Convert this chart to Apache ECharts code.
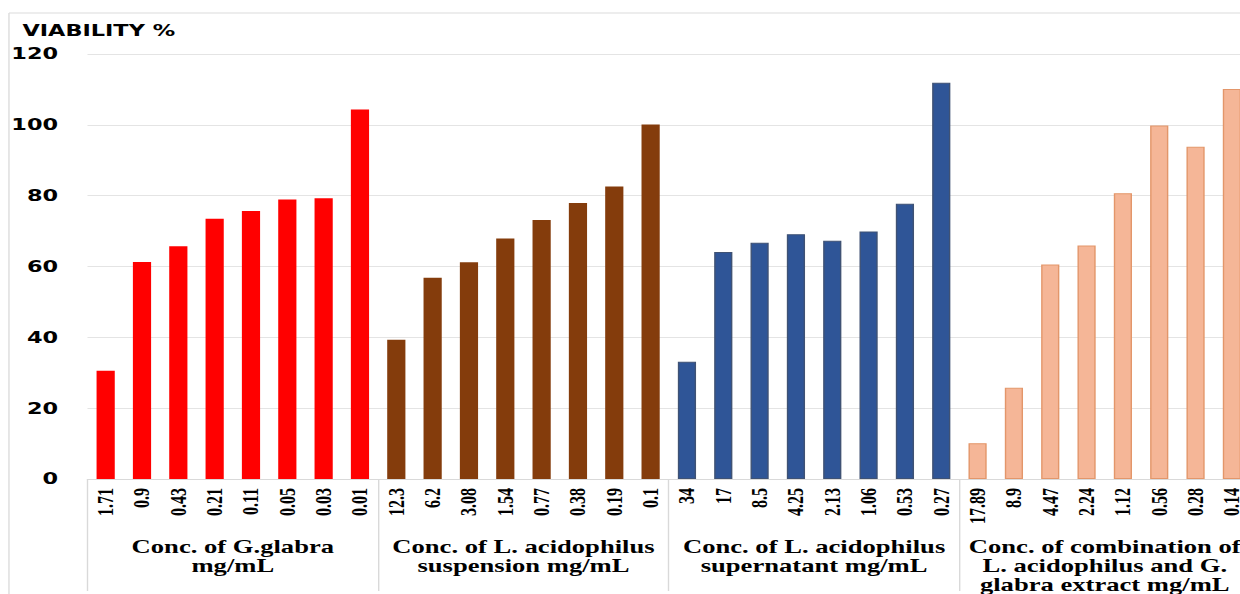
<!DOCTYPE html>
<html><head><meta charset="utf-8">
<script src="https://cdn.jsdelivr.net/npm/echarts@6/dist/echarts.min.js"></script>
<style>
html,body{margin:0;padding:0;background:#fff;overflow:hidden;}
#wrap{width:1240px;height:594px;overflow:hidden;position:relative;}
#chart{width:910px;height:594px;transform:scaleX(1.4);transform-origin:0 0;}
</style></head><body><div id="wrap"><div id="chart"></div></div>
<script>
// Tick labels (concentrations, mg/mL)
const glabraConc = ['1.71','0.9','0.43','0.21','0.11','0.05','0.03','0.01'];
const suspensionConc = ['12.3','6.2','3.08','1.54','0.77','0.38','0.19','0.1'];
const supernatantConc = ['34','17','8.5','4.25','2.13','1.06','0.53','0.27'];
const combinationConc = ['17.89','8.9','4.47','2.24','1.12','0.56','0.28','0.14'];

// Viability % values
const glabraViability = [30.6, 61.3, 65.7, 73.5, 75.7, 78.9, 79.3, 104.3];
const suspensionViability = [39.3, 56.8, 61.2, 67.9, 73.1, 77.9, 82.6, 100.1];
const supernatantViability = [33.1, 64.1, 66.7, 69.1, 67.3, 69.9, 77.7, 111.9];
const combinationViability = [10.1, 25.8, 60.6, 65.9, 80.7, 99.8, 93.8, 110.1];

// Group names
const groupNames = [
  'Conc. of G.glabra\nmg/mL',
  'Conc. of L. acidophilus\nsuspension mg/mL',
  'Conc. of L. acidophilus\nsupernatant mg/mL',
  'Conc. of combination of\nL. acidophilus and G.\nglabra extract mg/mL'
];
const yTicks = {min: 0, max: 120, interval: 20};

const allConc = [].concat(glabraConc, suspensionConc, supernatantConc, combinationConc);
const groups = [glabraViability, suspensionViability, supernatantViability, combinationViability];
const N = allConc.length;
function padded(gi) {
  const arr = new Array(N).fill('-');
  groups[gi].forEach((v, i) => { arr[gi * 8 + i] = v; });
  return arr;
}
const styles = [
  {color: '#FF0000'},
  {color: '#843C0C'},
  {color: '#2F5597', borderColor: '#3f5274', borderWidth: 1},
  {color: '#F5B697', borderColor: '#E3966A', borderWidth: 1}
];

const chart = echarts.init(document.getElementById('chart'), null, {renderer: 'svg'});
chart.setOption({
  animation: false,
  backgroundColor: '#fff',
  title: {
    text: 'VIABILITY %', left: 16, top: 23, padding: 0,
    textStyle: {fontFamily: 'DejaVu Sans', fontWeight: 'bold', fontSize: 16, color: '#000'}
  },
  graphic: [
    {type: 'line', shape: {x1: 6.4, y1: 13, x2: 910, y2: 13}, style: {stroke: '#dcdcdc', lineWidth: 1}, silent: true},
    {type: 'line', shape: {x1: 6.4, y1: 13, x2: 6.4, y2: 594}, style: {stroke: '#dcdcdc', lineWidth: 1}, silent: true}
  ],
  grid: {left: 62.5, top: 54, width: 830.4, height: 428, containLabel: false},
  xAxis: [
    {
      type: 'category', data: allConc, position: 'bottom',
      axisLine: {lineStyle: {color: '#d9d9d9', width: 1}},
      axisTick: {show: false},
      axisLabel: {rotate: 90, interval: 0, margin: 9, fontFamily: 'Liberation Serif', fontWeight: 'bold', fontSize: 16, color: '#000'}
    },
    {
      type: 'category', data: groupNames, position: 'bottom',
      axisLine: {show: false},
      axisTick: {show: true, length: 112, lineStyle: {color: '#d9d9d9', width: 1}},
      axisLabel: {interval: 0, margin: 58, fontFamily: 'Liberation Serif', fontWeight: 'bold', fontSize: 19, lineHeight: 19, color: '#000'}
    }
  ],
  yAxis: {
    type: 'value', min: yTicks.min, max: yTicks.max, interval: yTicks.interval,
    axisLine: {show: false}, axisTick: {show: false},
    splitLine: {lineStyle: {color: '#e4e4e4', width: 1}},
    axisLabel: {margin: 21, fontFamily: 'DejaVu Sans', fontWeight: 'bold', fontSize: 16, color: '#000'}
  },
  series: groups.map((g, gi) => ({
    type: 'bar', stack: 'v', xAxisIndex: 0, barWidth: 13,
    data: padded(gi), itemStyle: styles[gi]
  }))
});
</script></body></html>
